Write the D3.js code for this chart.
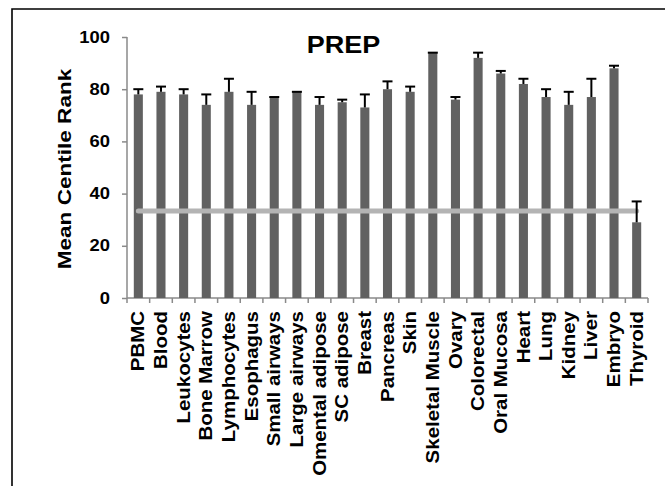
<!DOCTYPE html>
<html>
<head>
<meta charset="utf-8">
<script src="https://cdn.jsdelivr.net/npm/d3@7"></script>
<style>
  html, body { margin: 0; padding: 0; background: #fff; overflow: hidden; }
  svg { display: block; }
  text { font-family: "Liberation Sans", Arial, sans-serif; font-weight: bold; fill: #000; }
</style>
</head>
<body>
<svg id="chart" width="665" height="486"></svg>
<script>
// Tissue categories and mean centile rank of PREP per tissue
const categories = ["PBMC", "Blood", "Leukocytes", "Bone Marrow", "Lymphocytes", "Esophagus",
  "Small airways", "Large airways", "Omental adipose", "SC adipose", "Breast", "Pancreas",
  "Skin", "Skeletal Muscle", "Ovary", "Colorectal", "Oral Mucosa", "Heart", "Lung",
  "Kidney", "Liver", "Embryo", "Thyroid"];
const meanRank = [78, 79, 78, 74, 79, 74, 77, 79, 74, 75, 73, 80, 79, 94, 76, 92, 86, 82, 77, 74, 77, 88, 29];
const upperError = [2, 2, 2, 4, 5, 5, 0, 0, 3, 1, 5, 3, 2, 0, 1, 2, 1, 2, 3, 5, 7, 1, 8];
const yTicks = [0, 20, 40, 60, 80, 100];
const baselineRank = [33.3];   // expected rank by chance
const title = "PREP";
const yTitle = "Mean Centile Rank";

const data = categories.map((c, i) => ({ cat: c, mean: meanRank[i], err: upperError[i] }));

const svg = d3.select("#chart");

// outer frame (top and left edges fall inside the canvas)
svg.append("path")
  .attr("d", "M12,486V9H665")
  .attr("fill", "none").attr("stroke", "#000").attr("stroke-width", 1.6);

const x = d3.scaleBand().domain(categories).range([127, 648]).paddingInner(0.6).paddingOuter(0.3);
const y = d3.scaleLinear().domain([0, 100]).range([298, 37]);

const axisColor = "#8a8a8a";

// y axis
const yAxis = svg.append("g").attr("transform", "translate(127,0)")
  .call(d3.axisLeft(y).tickValues(yTicks).tickSize(5).tickFormat(""));
yAxis.select(".domain").attr("stroke", axisColor).attr("stroke-width", 1.5).attr("d", `M0,${y(100)}V${y(0)}`);
yAxis.selectAll(".tick line").attr("stroke", axisColor).attr("stroke-width", 1.5);

svg.selectAll("text.ytick").data(yTicks).join("text")
  .attr("class", "ytick")
  .attr("text-anchor", "end")
  .attr("dy", "0.35em")
  .attr("font-size", 16)
  .attr("transform", d => `translate(110,${y(d)}) scale(1.15,1)`)
  .text(d => d);

// x axis line with ticks on band boundaries
svg.append("line")
  .attr("x1", 127).attr("x2", 648).attr("y1", y(0)).attr("y2", y(0))
  .attr("stroke", axisColor).attr("stroke-width", 1.5);
const boundaries = categories.map(c => x(c) - x.step() * x.paddingInner() / 2).concat([648]);
svg.selectAll("line.xtick").data(boundaries).join("line")
  .attr("class", "xtick")
  .attr("x1", d => d).attr("x2", d => d)
  .attr("y1", y(0)).attr("y2", y(0) + 5)
  .attr("stroke", axisColor).attr("stroke-width", 1.5);

// bars
svg.selectAll("rect.bar").data(data).join("rect")
  .attr("class", "bar")
  .attr("x", d => x(d.cat)).attr("width", x.bandwidth())
  .attr("y", d => y(d.mean)).attr("height", d => y(0) - y(d.mean))
  .attr("fill", "#616161");

// chance-level reference line
svg.selectAll("line.ref").data(baselineRank).join("line")
  .attr("class", "ref")
  .attr("x1", x(categories[0]) + x.bandwidth() / 2)
  .attr("x2", x(categories[categories.length - 1]) + x.bandwidth() / 2)
  .attr("y1", d => y(d)).attr("y2", d => y(d))
  .attr("stroke", "#b4b4b4").attr("stroke-width", 5).attr("stroke-linecap", "round");

// upper error bars
const eb = svg.selectAll("g.err").data(data).join("g").attr("class", "err");
eb.append("line")
  .attr("x1", d => x(d.cat) + x.bandwidth() / 2).attr("x2", d => x(d.cat) + x.bandwidth() / 2)
  .attr("y1", d => y(d.mean)).attr("y2", d => y(d.mean + d.err))
  .attr("stroke", "#000").attr("stroke-width", 2);
eb.append("line")
  .attr("x1", d => x(d.cat) + x.bandwidth() / 2 - 5).attr("x2", d => x(d.cat) + x.bandwidth() / 2 + 5)
  .attr("y1", d => y(d.mean + d.err)).attr("y2", d => y(d.mean + d.err))
  .attr("stroke", "#000").attr("stroke-width", 2);

// category labels
svg.selectAll("text.xlab").data(categories).join("text")
  .attr("class", "xlab")
  .attr("text-anchor", "end")
  .attr("dy", "0.35em")
  .attr("font-size", 17.5)
  .attr("transform", d => `translate(${x(d) + x.bandwidth() / 2},311) rotate(-90) scale(1.17,1)`)
  .text(d => d);

// axis title
svg.append("text")
  .attr("text-anchor", "middle")
  .attr("dy", "0.35em")
  .attr("font-size", 18.5)
  .attr("transform", `translate(65,169) rotate(-90) scale(1.22,1)`)
  .text(yTitle);

// chart title
svg.append("text")
  .attr("text-anchor", "middle")
  .attr("font-size", 23.5)
  .attr("transform", `translate(343.5,53.3) scale(1.15,1)`)
  .text(title);
</script>
</body>
</html>
